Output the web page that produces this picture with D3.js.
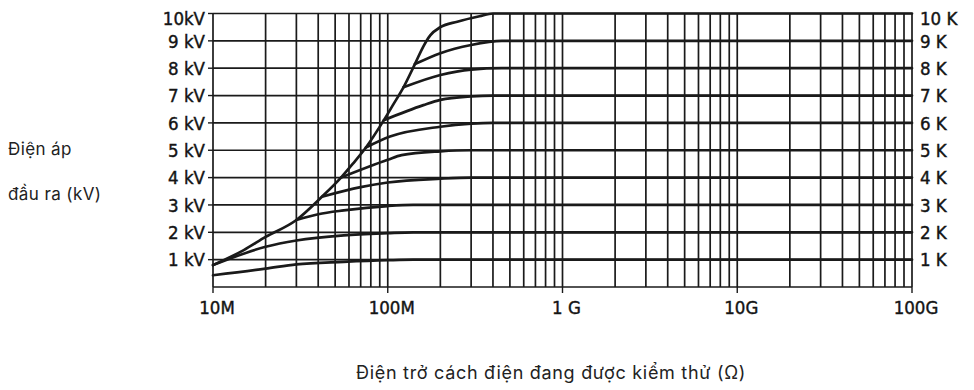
<!DOCTYPE html>
<html>
<head>
<meta charset="utf-8">
<script src="https://cdn.jsdelivr.net/npm/d3@7"></script>
<style>
  body { margin: 0; background: #fff; }
  svg { display: block; }
  .tick-label { font-family: "DejaVu Sans Condensed", "DejaVu Sans", sans-serif; font-size: 18.5px; fill: #141414; stroke: #141414; stroke-width: 0.4px; }
  .title { font-family: Inter, "Noto Sans", sans-serif; fill: #222; }
</style>
</head>
<body>
<svg id="chart" width="974" height="390"></svg>
<script>
// x axis: insulation resistance (ohm), log scale
const resistanceTicks = [1e7, 1e8, 1e9, 1e10, 1e11];
const resistanceLabels = ["10M", "100M", "1 G", "10G", "100G"];

// y axis: output voltage (kV)
const voltTicks = [1, 2, 3, 4, 5, 6, 7, 8, 9, 10];
const voltLabelsLeft = ["1 kV", "2 kV", "3 kV", "4 kV", "5 kV", "6 kV", "7 kV", "8 kV", "9 kV", "10kV"];
const voltLabelsRight = ["1 K", "2 K", "3 K", "4 K", "5 K", "6 K", "7 K", "8 K", "9 K", "10 K"];

// one curve per voltage range: [resistance, kV]
// the 10 kV curve is the envelope, the lower ranges branch off it
const curve10 = [[1e7, 0.8], [1.5e7, 1.35], [2e7, 1.83], [3e7, 2.45], [4.2e7, 3.3], [5.4e7, 4.0], [6.3e7, 4.5],
  [7.5e7, 5.1], [9.5e7, 6.1], [1.07e8, 6.65], [1.23e8, 7.3], [1.43e8, 8.15], [1.6e8, 8.8], [1.75e8, 9.2],
  [2e8, 9.5], [2.5e8, 9.7], [3.35e8, 9.9], [4e8, 10], [1e11, 10]];
const curve9 = [[1.43e8, 8.15], [2e8, 8.55], [3e8, 8.85], [4.5e8, 9], [1e11, 9]];
const curve8 = [[1.23e8, 7.3], [2e8, 7.75], [3e8, 7.95], [4.5e8, 8], [1e11, 8]];
const curve7 = [[9.5e7, 6.1], [1.6e8, 6.65], [2e8, 6.84], [3e8, 6.97], [4e8, 7], [1e11, 7]];
const curve6 = [[7.5e7, 5.1], [1.03e8, 5.5], [2e8, 5.86], [3e8, 5.97], [4e8, 6], [1e11, 6]];
const curve5 = [[5.4e7, 4.0], [1e8, 4.65], [1.2e8, 4.82], [2e8, 4.96], [3e8, 5], [1e11, 5]];
const curve4 = [[4.2e7, 3.3], [7e7, 3.65], [1e8, 3.82], [2e8, 3.96], [3e8, 4], [1e11, 4]];
const curve3 = [[3e7, 2.45], [4e7, 2.66], [5.6e7, 2.8], [1e8, 2.96], [1.4e8, 3], [1e11, 3]];
const curve2 = [[1e7, 0.8], [2e7, 1.47], [3e7, 1.7], [5.6e7, 1.89], [1e8, 1.97], [1.4e8, 2], [1e11, 2]];
const curve1 = [[1e7, 0.43], [2e7, 0.67], [3e7, 0.83], [5.6e7, 0.92], [1e8, 0.98], [1.4e8, 1], [1e11, 1]];

const curves = [curve1, curve2, curve3, curve4, curve5, curve6, curve7, curve8, curve9, curve10];

const ink = "#1a1a1a";
const svg = d3.select("#chart");
const x = d3.scaleLog().domain([1e7, 1e11]).range([213, 912]);
const y = d3.scaleLinear().domain([0, 10]).range([287, 13.5]);

// vertical grid: every 1..9 multiple of each decade
svg.append("g")
  .selectAll("line")
  .data(x.ticks())
  .join("line")
  .attr("x1", d => x(d)).attr("x2", d => x(d))
  .attr("y1", y(0)).attr("y2", y(10))
  .attr("stroke", ink).attr("stroke-width", 1.7);

// horizontal grid, including the base line
svg.append("g")
  .selectAll("line")
  .data([0].concat(voltTicks))
  .join("line")
  .attr("x1", x(1e7)).attr("x2", x(1e11))
  .attr("y1", d => y(d)).attr("y2", d => y(d))
  .attr("stroke", ink).attr("stroke-width", 1.7);

// small outside ticks
svg.append("g")
  .selectAll("line")
  .data(voltTicks)
  .join("line")
  .attr("x1", x(1e7) - 5).attr("x2", x(1e7))
  .attr("y1", d => y(d)).attr("y2", d => y(d))
  .attr("stroke", ink).attr("stroke-width", 1.4);

svg.append("g")
  .selectAll("line")
  .data(resistanceTicks)
  .join("line")
  .attr("x1", d => x(d)).attr("x2", d => x(d))
  .attr("y1", y(0)).attr("y2", y(0) + 6)
  .attr("stroke", ink).attr("stroke-width", 1.4);

// curves
const line = d3.line()
  .x(d => x(d[0]))
  .y(d => y(d[1]))
  .curve(d3.curveMonotoneX);

svg.append("g")
  .selectAll("path")
  .data(curves)
  .join("path")
  .attr("d", line)
  .attr("fill", "none")
  .attr("stroke", ink)
  .attr("stroke-width", 2.7)
  .attr("stroke-linejoin", "round")
  .attr("stroke-linecap", "round");

// tick labels
svg.append("g")
  .selectAll("text")
  .data(voltTicks)
  .join("text")
  .attr("class", "tick-label")
  .attr("x", 205)
  .attr("y", d => y(d) + (d == 10 ? 5 : 0))
  .attr("dy", "0.36em")
  .attr("text-anchor", "end")
  .text((d, i) => voltLabelsLeft[i]);

svg.append("g")
  .selectAll("text")
  .data(voltTicks)
  .join("text")
  .attr("class", "tick-label")
  .attr("x", 920)
  .attr("y", d => y(d) + (d == 10 ? 5 : 0))
  .attr("dy", "0.36em")
  .attr("text-anchor", "start")
  .text((d, i) => voltLabelsRight[i]);

svg.append("g")
  .selectAll("text")
  .data(resistanceTicks)
  .join("text")
  .attr("class", "tick-label")
  .attr("x", d => x(d) + 4)
  .attr("y", 314)
  .attr("text-anchor", "middle")
  .text((d, i) => resistanceLabels[i]);

// axis titles
svg.append("text").attr("class", "title")
  .attr("x", 8).attr("y", 155)
  .style("font-size", "17px").style("letter-spacing", "0.4px")
  .text("Điện áp");
svg.append("text").attr("class", "title")
  .attr("x", 8).attr("y", 200)
  .style("font-size", "17px").style("letter-spacing", "0.4px")
  .text("đầu ra (kV)");
svg.append("text").attr("class", "title")
  .attr("x", 551).attr("y", 379)
  .attr("text-anchor", "middle")
  .style("font-size", "18px").style("letter-spacing", "0.7px")
  .text("Điện trở cách điện đang được kiểm thử (Ω)");
</script>
</body>
</html>
